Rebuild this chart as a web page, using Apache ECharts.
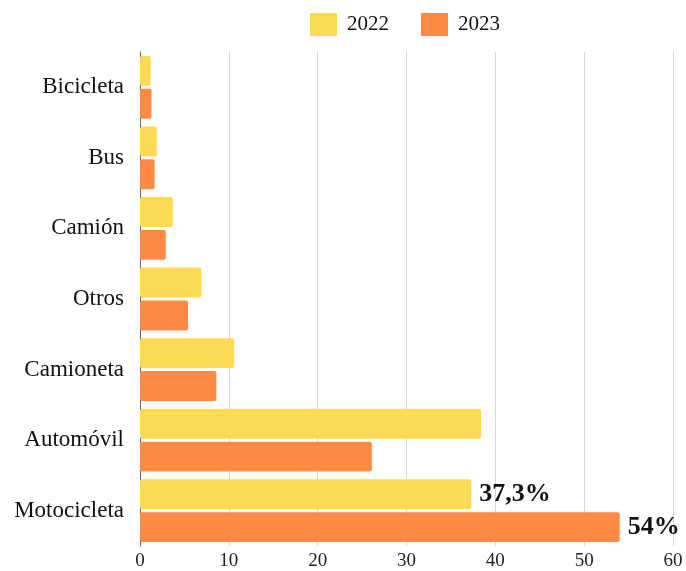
<!DOCTYPE html>
<html style="height: 100%">
<head>
    <meta charset="utf-8">
    <script type="text/javascript" src="https://cdn.jsdelivr.net/npm/echarts@6/dist/echarts.min.js"></script>
</head>
<body style="height: 100%; margin: 0; background: #fff">
<div id="container" style="width: 686px; height: 571px"></div>
<script type="text/javascript">
    var categories = ["Bicicleta", "Bus", "Camión", "Otros", "Camioneta", "Automóvil", "Motocicleta"];
    var values2022 = [1.2, 1.9, 3.7, 6.9, 10.6, 38.4, 37.3];
    var values2023 = [1.3, 1.65, 2.9, 5.4, 8.6, 26.1, 54];
    var seriesNames = ["2022", "2023"];
    var highlightLabels = {"2022": {6: "37,3%"}, "2023": {6: "54%"}};

    function buildData(values, name) {
        return values.map(function (v, i) {
            var item = {value: v};
            if (highlightLabels[name][i]) {
                item.label = {show: true, formatter: highlightLabels[name][i]};
            }
            return item;
        });
    }

    var myChart = echarts.init(document.getElementById("container"));
    var fontFamily = "'Liberation Serif', 'DejaVu Serif', serif";

    var option = {
        backgroundColor: "#fff",
        textStyle: {fontFamily: fontFamily},
        color: ["#FCDA55", "#FD8B45"],
        legend: {
            left: 305,
            top: 8,
            itemWidth: 27,
            itemHeight: 23,
            itemGap: 32,
            icon: "rect",
            textStyle: {fontFamily: fontFamily, fontSize: 21, color: "#111", padding: [0, 0, 0, 5]},
            data: seriesNames
        },
        grid: {left: 140, right: 13, top: 52, bottom: 22, containLabel: false},
        xAxis: {
            type: "value",
            min: 0,
            max: 60,
            interval: 10,
            axisLine: {show: false},
            axisTick: {show: false},
            axisLabel: {fontFamily: fontFamily, fontSize: 19, color: "#222", margin: 6},
            splitLine: {lineStyle: {color: "#d6d6d6", width: 1}}
        },
        yAxis: {
            type: "category",
            inverse: true,
            data: categories,
            axisLine: {show: true, lineStyle: {color: "#666", width: 1}},
            axisTick: {show: false},
            axisLabel: {fontFamily: fontFamily, fontSize: 23, color: "#111", margin: 16}
        },
        series: [
            {
                name: seriesNames[0],
                type: "bar",
                barCategoryGap: "11%",
                barGap: "10%",
                itemStyle: {borderRadius: 2},
                label: {show: false, position: "right", fontFamily: fontFamily, fontSize: 26, fontWeight: "bold", color: "#111", distance: 8},
                data: buildData(values2022, "2022")
            },
            {
                name: seriesNames[1],
                type: "bar",
                itemStyle: {borderRadius: 2},
                label: {show: false, position: "right", fontFamily: fontFamily, fontSize: 26, fontWeight: "bold", color: "#111", distance: 8},
                data: buildData(values2023, "2023")
            }
        ]
    };

    myChart.setOption(option);
</script>
</body>
</html>
